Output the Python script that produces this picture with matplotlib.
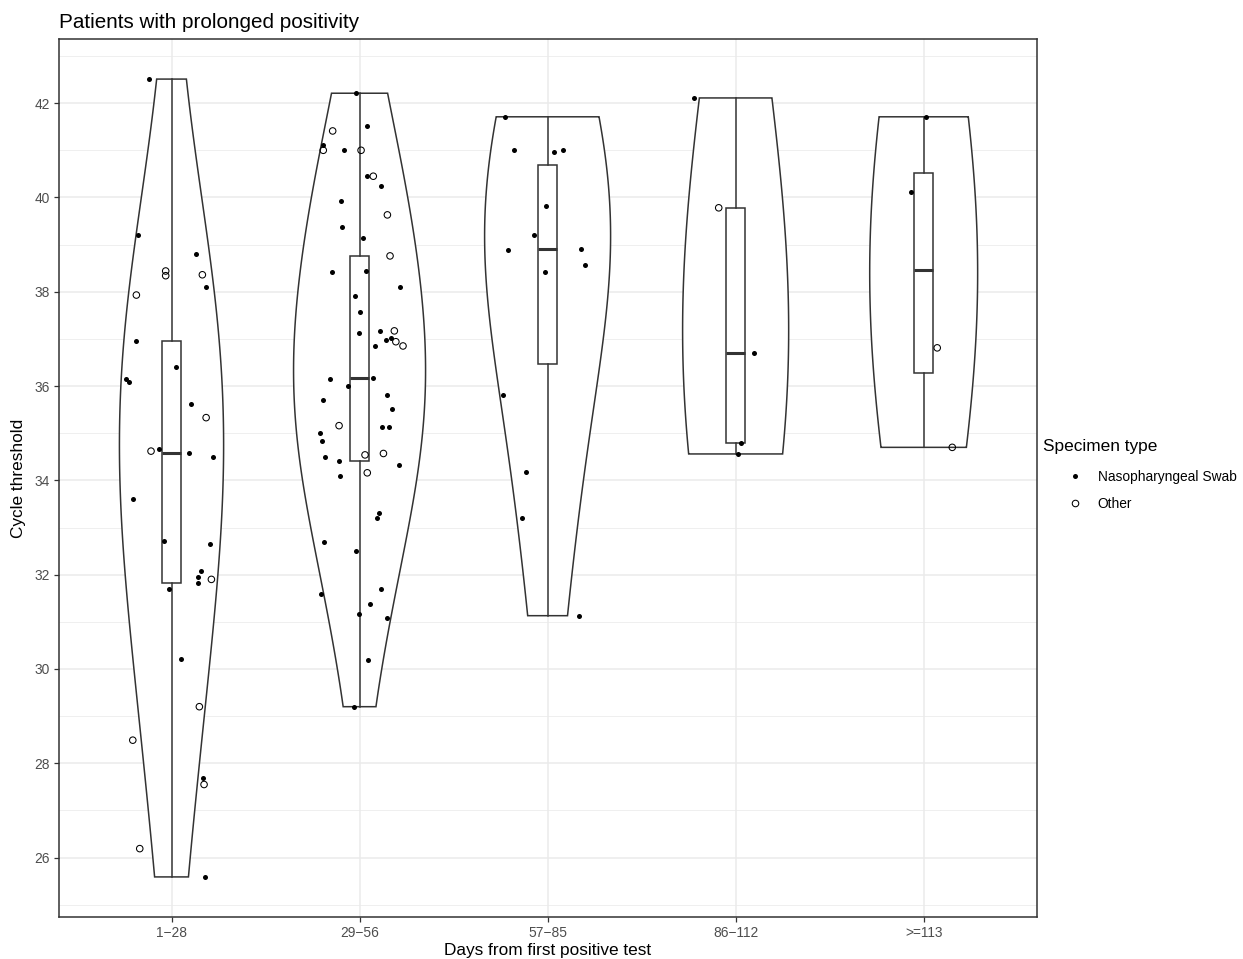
import numpy as np
import matplotlib
matplotlib.use("Agg")
import matplotlib.pyplot as plt
from matplotlib.lines import Line2D

plt.rcParams["font.family"] = ["Liberation Sans", "DejaVu Sans"]

groups = ["1\u221228", "29\u221256", "57\u221285", "86\u2212112", ">=113"]

# Ct values, per group, with their jitter offsets (x units)
np_ct = [
    [42.51, 39.21, 38.81, 38.10, 36.96, 36.41, 36.15, 36.09, 35.61, 34.66, 34.59,
     34.49, 33.60, 32.71, 32.65, 32.08, 31.94, 31.83, 31.69, 30.21, 27.69, 25.59],
    [42.21, 41.51, 41.11, 41.00, 40.46, 40.24, 39.92, 39.37, 39.14, 38.41, 38.44,
     38.09, 37.92, 37.58, 37.13, 37.17, 37.02, 36.98, 36.84, 36.15, 36.17, 36.00,
     35.71, 35.81, 35.51, 35.00, 34.83, 35.13, 35.13, 34.50, 34.42, 34.32, 34.10,
     33.30, 33.20, 32.70, 32.51, 31.70, 31.60, 31.38, 31.16, 31.09, 30.20, 29.20],
    [41.71, 41.01, 40.97, 41.00, 39.81, 39.21, 38.89, 38.91, 38.57, 38.41, 35.81,
     34.18, 33.20, 31.13],
    [42.11, 36.70, 34.80, 34.56],
    [41.71, 40.11],
]
np_jit = [
    [-0.118, -0.178, 0.132, 0.184, -0.187, 0.026, -0.240, -0.228, 0.105, -0.068, 0.093,
     0.222, -0.205, -0.038, 0.205, 0.157, 0.143, 0.139, -0.013, 0.051, 0.168, 0.180],
    [-0.019, 0.038, -0.196, -0.082, 0.038, 0.113, -0.100, -0.093, 0.019, -0.148, 0.033,
     0.214, -0.022, 0.003, -0.003, 0.111, 0.169, 0.143, 0.082, -0.159, 0.073, -0.061,
     -0.196, 0.148, 0.171, -0.209, -0.199, 0.120, 0.159, -0.182, -0.107, 0.210, -0.102,
     0.105, 0.093, -0.187, -0.017, 0.113, -0.205, 0.057, -0.004, 0.146, 0.047, -0.029],
    [-0.226, -0.181, 0.035, 0.081, -0.009, -0.071, -0.211, 0.177, 0.198, -0.014, -0.239,
     -0.117, -0.135, 0.165],
    [-0.223, 0.100, 0.029, 0.011],
    [0.010, -0.066],
]
oth_ct = [
    [38.44, 38.34, 38.36, 37.93, 35.33, 34.62, 31.90, 29.20, 28.49, 27.55, 26.19],
    [41.41, 41.00, 41.00, 40.45, 39.63, 38.76, 37.17, 36.94, 36.85, 35.16, 34.54,
     34.57, 34.16],
    [],
    [39.78],
    [36.81, 34.70],
]
oth_jit = [
    [-0.031, -0.031, 0.164, -0.187, 0.184, -0.109, 0.212, 0.148, -0.206, 0.173, -0.169],
    [-0.143, -0.193, 0.008, 0.073, 0.148, 0.162, 0.185, 0.193, 0.231, -0.109, 0.029,
     0.127, 0.041],
    [],
    [-0.090],
    [0.072, 0.152],
]

violin_half = [0.277, 0.351, 0.335, 0.282, 0.287]
bw_adjust = 2.0
line_col = "#333333"


def nrd0(v):
    sd = np.std(v, ddof=1)
    q75, q25 = np.percentile(v, [75, 25])
    lo = min(sd, (q75 - q25) / 1.34)
    return 0.9 * lo * len(v) ** -0.2


fig = plt.figure(figsize=(12.43, 9.59), dpi=100)
ax = fig.add_axes([58.7 / 1243, 42 / 959, 977.8 / 1243, 878 / 959])

all_ct = []
for i in range(len(groups)):
    vals = np.array(np_ct[i] + oth_ct[i])
    all_ct.append(vals)
    bw = nrd0(vals) * bw_adjust
    grid = np.linspace(vals.min(), vals.max(), 512)
    dens = np.exp(-0.5 * ((grid[:, None] - vals[None, :]) / bw) ** 2).sum(axis=1)
    w = dens / dens.max() * violin_half[i]
    xs = np.concatenate([i + 1 - w, (i + 1 + w)[::-1]])
    ys = np.concatenate([grid, grid[::-1]])
    ax.fill(xs, ys, facecolor="white", edgecolor=line_col, linewidth=1.1, zorder=2)

bp = ax.boxplot(all_ct, positions=np.arange(1, 6), widths=0.1, whis=1.5,
                showfliers=False, showcaps=False, patch_artist=True,
                manage_ticks=False, zorder=3)
for b in bp["boxes"]:
    b.set(facecolor="white", edgecolor=line_col, linewidth=1.1)
for wsk in bp["whiskers"]:
    wsk.set(color=line_col, linewidth=1.1)
for med in bp["medians"]:
    med.set(color=line_col, linewidth=2.2)

for i in range(len(groups)):
    if np_ct[i]:
        ax.scatter(i + 1 + np.array(np_jit[i]), np_ct[i], s=13, c="black",
                   linewidths=0, zorder=4)
    if oth_ct[i]:
        ax.scatter(i + 1 + np.array(oth_jit[i]), oth_ct[i], s=22, facecolors="none",
                   edgecolors="black", linewidths=0.75, zorder=4)

ax.set_xlim(0.4, 5.6)
ax.set_ylim(24.74, 43.36)
ax.set_xticks(np.arange(1, 6))
ax.set_xticklabels(groups)
ax.set_yticks(np.arange(26, 43, 2))
ax.set_yticks(np.arange(25, 44, 2), minor=True)
ax.grid(which="major", color="#EBEBEB", linewidth=1.1, zorder=0)
ax.grid(which="minor", axis="y", color="#EBEBEB", linewidth=0.55, zorder=0)
ax.set_axisbelow(True)
ax.tick_params(which="major", length=3.8, width=0.9, color=line_col,
               labelcolor="#4D4D4D", labelsize=9.9, pad=2.5)
ax.tick_params(which="minor", length=0)
for sp in ax.spines.values():
    sp.set_color(line_col)
    sp.set_linewidth(1.1)

ax.set_xlabel("Days from first positive test", fontsize=12.4, labelpad=2)
ax.set_ylabel("Cycle threshold", fontsize=12.4, labelpad=6)
ax.set_title("Patients with prolonged positivity", loc="left", fontsize=14.9, pad=8)

fig.text(1043 / 1243, 1 - 447 / 959, "Specimen type", fontsize=12.4, va="center",
         ha="left")
handles = [
    Line2D([], [], marker="o", linestyle="none", markersize=3.6, color="black",
           markeredgewidth=0),
    Line2D([], [], marker="o", linestyle="none", markersize=4.7,
           markerfacecolor="none", markeredgecolor="black", markeredgewidth=0.75),
]
leg = fig.legend(handles, ["Nasopharyngeal Swab", "Other"],
                 loc="upper left", bbox_to_anchor=(1064 / 1243, 1 - 470 / 959),
                 frameon=False, fontsize=9.9, borderpad=0, borderaxespad=0,
                 handletextpad=0.85, labelspacing=0.93, handlelength=1.6)

fig.savefig("out.png", dpi=100)
